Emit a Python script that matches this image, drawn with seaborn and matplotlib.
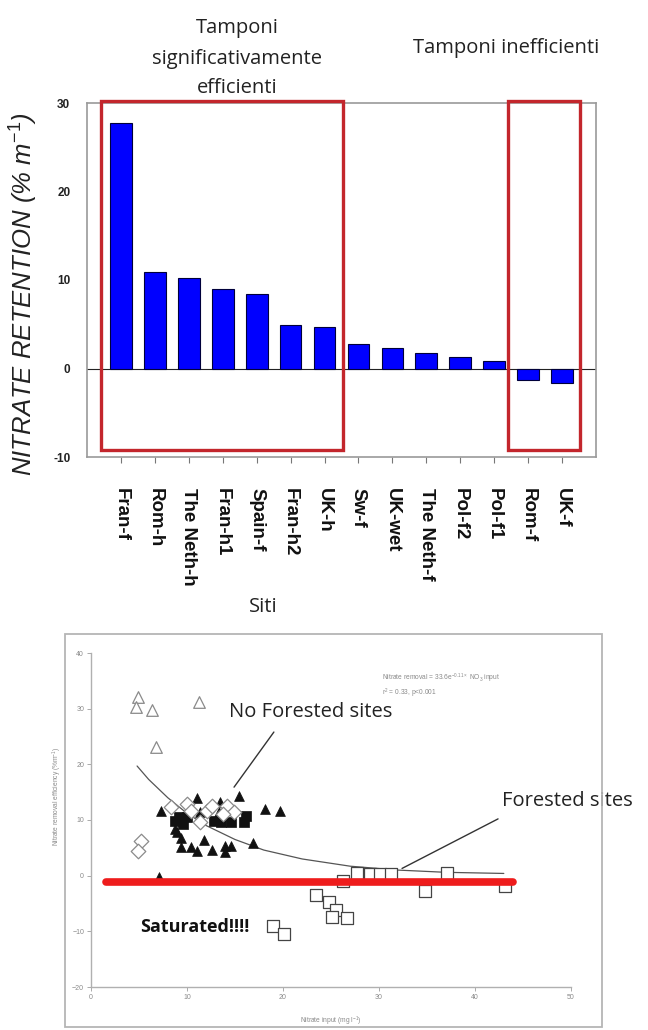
import numpy as np
import pandas as pd
import matplotlib
matplotlib.use("Agg")
import matplotlib.pyplot as plt
from matplotlib.patches import Rectangle
import seaborn as sns

# ---------------- data: top panel ----------------
sites = ["Fran-f", "Rom-h", "The Neth-h", "Fran-h1", "Spain-f", "Fran-h2", "UK-h",
         "Sw-f", "UK-wet", "The Neth-f", "Pol-f2", "Pol-f1", "Rom-f", "UK-f"]
retention = [27.7, 10.9, 10.2, 9.0, 8.4, 4.9, 4.7, 2.8, 2.3, 1.7, 1.3, 0.8, -1.35, -1.6]
top_yticks = [-10, 0, 10, 20, 30]
efficient_group = ["Fran-f", "UK-h"]        # first and last site in the "efficient" box
inefficient_group = ["Rom-f", "UK-f"]       # first and last site in the "inefficient" box

# ---------------- data: bottom panel ----------------
open_tri_x = [4.85, 4.7, 6.4, 11.3, 6.75]
open_tri_y = [32.1, 30.3, 29.8, 31.2, 23.1]
open_dia_x = [5.2, 4.85, 8.3, 10.05, 11.4, 12.1, 12.65, 14.2, 14.9, 13.7, 10.4]
open_dia_y = [6.3, 4.4, 12.3, 12.9, 9.6, 11.7, 12.6, 12.6, 11.4, 11.1, 11.7]
fill_tri_x = [7.3, 11.0, 13.4, 15.4, 18.1, 19.7, 16.9, 9.4, 9.35, 10.4, 11.8, 11.0,
              12.65, 14.0, 14.55, 14.0, 7.1, 8.7, 11.4, 13.3, 9.0]
fill_tri_y = [11.6, 13.9, 13.3, 14.4, 12.0, 11.7, 5.8, 6.8, 5.1, 5.1, 6.4, 4.5,
              4.6, 5.4, 5.4, 4.2, -0.2, 8.4, 11.4, 11.4, 7.8]
fill_sq_x = [8.7, 9.2, 10.05, 12.8, 13.5, 14.55, 16.1, 15.9, 9.6]
fill_sq_y = [9.9, 10.5, 10.5, 9.9, 9.6, 9.6, 10.8, 9.6, 9.2]
open_sq_x = [27.7, 29.1, 30.1, 31.2, 37.1, 26.3, 43.1, 34.8, 23.4, 24.8, 25.5, 25.1, 26.7, 19.0, 20.1]
open_sq_y = [0.5, 0.3, 0.3, 0.3, 0.5, -1.0, -1.8, -2.8, -3.4, -4.8, -6.2, -7.4, -7.6, -9.1, -10.5]
fit_x = [4.8, 6.0, 8.0, 10.0, 12.0, 15.0, 18.0, 22.0, 27.0, 32.0, 37.0, 43.0]
fit_y = [19.7, 17.3, 14.0, 11.2, 9.0, 6.5, 4.6, 3.0, 1.7, 1.0, 0.6, 0.4]
sat_x = [1.6, 44.0]
sat_y = [-1.2, -1.2]
bot_xticks = [0, 10, 20, 30, 40, 50]
bot_yticks = [-20, -10, 0, 10, 20, 30, 40]

# ---------------- style ----------------
sns.set_theme(style="white")
plt.rcParams["font.family"] = ["Liberation Sans", "DejaVu Sans"]
plt.rcParams["mathtext.fontset"] = "custom"
plt.rcParams["mathtext.rm"] = "Liberation Sans"
plt.rcParams["mathtext.it"] = "Liberation Sans:italic"

W, H = 648, 1030
fig = plt.figure(figsize=(W / 100, H / 100), dpi=100)


def fx(x):
    return x / W


def fy(y):
    return 1 - y / H


ANN = ["Open Sans", "DejaVu Sans"]
RED_BOX = "#c3262c"

# ---------------- top panel ----------------
ax1 = fig.add_axes([fx(87), fy(457), (596 - 87) / W, (457 - 103) / H])
df_top = pd.DataFrame({"site": sites, "retention": retention})
sns.barplot(data=df_top, x="site", y="retention", order=sites, color="#0000ff",
            saturation=1, edgecolor="#00003a", linewidth=0.8, width=0.64, ax=ax1)
ax1.set_xlim(-1.0, len(sites))
ax1.set_ylim(-10, 30)
ax1.axhline(0, color="#222222", lw=0.8, zorder=0.5)
for s in ax1.spines.values():
    s.set_color("#9a9a9a")
    s.set_linewidth(1.2)
ax1.set_yticks(top_yticks)
ax1.set_yticklabels([str(t) for t in top_yticks], fontweight="bold", fontsize=8.5,
                    color="#222222")
ax1.tick_params(axis="y", length=0, pad=12)
ax1.tick_params(axis="x", length=4, width=0.8, color="#777777", direction="out", pad=18,
                bottom=True)
plt.setp(ax1.get_xticklabels(), rotation=270, ha="center", va="top",
         fontweight="bold", fontsize=13.5, color="#111111")
ax1.set_xlabel("")
ax1.set_ylabel("NITRATE RETENTION (% m$^{-1}$)", fontsize=18.5, style="italic",
               color="#222222")
ax1.yaxis.set_label_coords(-0.093, 0.46)

for grp in (efficient_group, inefficient_group):
    i0, i1 = sites.index(grp[0]), sites.index(grp[1])
    ax1.add_patch(Rectangle((i0 - 0.585, -9.2), (i1 - i0) + 1.12, 39.4, fill=False,
                            ec=RED_BOX, lw=2.4, clip_on=False, zorder=5))

fig.text(fx(237), fy(28), "Tamponi", family=ANN, fontsize=14.5, ha="center", va="center",
         color="#222222")
fig.text(fx(237), fy(59), "significativamente", family=ANN, fontsize=14.5, ha="center",
         va="center", color="#222222")
fig.text(fx(237), fy(88), "efficienti", family=ANN, fontsize=14.5, ha="center",
         va="center", color="#222222")
fig.text(fx(506), fy(48), "Tamponi inefficienti", family=ANN, fontsize=14.5, ha="center",
         va="center", color="#222222")
fig.text(fx(263), fy(607), "Siti", family=ANN, fontsize=14.5, ha="center", va="center",
         color="#222222")

# ---------------- bottom panel ----------------
fig.add_artist(Rectangle((fx(65), fy(1027)), (602 - 65) / W, (1027 - 634) / H,
                         transform=fig.transFigure, fill=False, ec="#b5b5b5", lw=1.3))

ax2 = fig.add_axes([fx(91), fy(987), (571 - 91) / W, (987 - 653) / H])
ax2.set_xlim(0, 50)
ax2.set_ylim(-20, 40)
for side in ("top", "right"):
    ax2.spines[side].set_visible(False)
for side in ("left", "bottom"):
    ax2.spines[side].set_color("#b0b0b0")
    ax2.spines[side].set_linewidth(1.0)
ax2.set_xticks(bot_xticks)
ax2.set_yticks(bot_yticks)
ax2.tick_params(axis="both", length=3, width=0.7, color="#aaaaaa", labelsize=5,
                labelcolor="#8a8a8a", direction="out", left=True, bottom=True, pad=2)

sns.lineplot(x=fit_x, y=fit_y, color="#555555", lw=0.9, ax=ax2, zorder=2)
sns.scatterplot(x=open_tri_x, y=open_tri_y, marker="^", s=70, facecolor="white",
                edgecolor="#8a8a8a", linewidth=0.9, ax=ax2, zorder=3)
sns.scatterplot(x=open_sq_x, y=open_sq_y, marker="s", s=70, facecolor="white",
                edgecolor="#444444", linewidth=0.9, ax=ax2, zorder=3)
sns.scatterplot(x=fill_sq_x, y=fill_sq_y, marker="s", s=45, color="#111111",
                edgecolor="#111111", linewidth=0.5, ax=ax2, zorder=3)
sns.scatterplot(x=fill_tri_x, y=fill_tri_y, marker="^", s=50, color="#111111",
                edgecolor="#111111", linewidth=0.5, ax=ax2, zorder=4)
sns.scatterplot(x=open_dia_x, y=open_dia_y, marker="D", s=55, facecolor="white",
                edgecolor="#8a8a8a", linewidth=0.9, ax=ax2, zorder=4)
sns.lineplot(x=sat_x, y=sat_y, color="#ee1c1c", lw=5.5, ax=ax2, zorder=6)

ax2.set_xlabel("Nitrate input (mg l$^{-1}$)", fontsize=4.8, color="#8a8a8a")
ax2.xaxis.set_label_coords(0.5, -0.084)
ax2.set_ylabel("Nitrate removal efficiency (%m$^{-1}$)", fontsize=4.8, color="#8a8a8a")
ax2.yaxis.set_label_coords(-0.056, 0.57)

ax2.text(30.3, 35.4, "Nitrate removal = 33.6e$^{-0.11\\times}$ NO$_3$ input", fontsize=4.8,
         color="#8a8a8a", va="center", ha="left")
ax2.text(30.3, 32.7, "r$^2$ = 0.33, p<0.001", fontsize=4.8, color="#8a8a8a", va="center",
         ha="left")

ax2.text(22.9, 29.4, "No Forested sites", family=ANN, fontsize=14.5, ha="center",
         va="center", color="#222222", zorder=7)
ax2.annotate("", xy=(14.9, 15.9), xytext=(19.05, 25.8),
             arrowprops=dict(arrowstyle="-", color="#333333", lw=1.0, shrinkA=0, shrinkB=0))
ax2.text(42.8, 13.5, "Forested sites", family=ANN, fontsize=14.5, ha="left", va="center",
         color="#222222", clip_on=False, zorder=7)
ax2.annotate("", xy=(32.4, 1.3), xytext=(42.4, 10.2),
             arrowprops=dict(arrowstyle="-", color="#333333", lw=1.0, shrinkA=0, shrinkB=0))
ax2.text(5.1, -9.2, "Saturated!!!!", family=ANN, fontsize=13, fontweight="bold",
         ha="left", va="center", color="#111111", zorder=7)

fig.savefig("out.png", dpi=100)
